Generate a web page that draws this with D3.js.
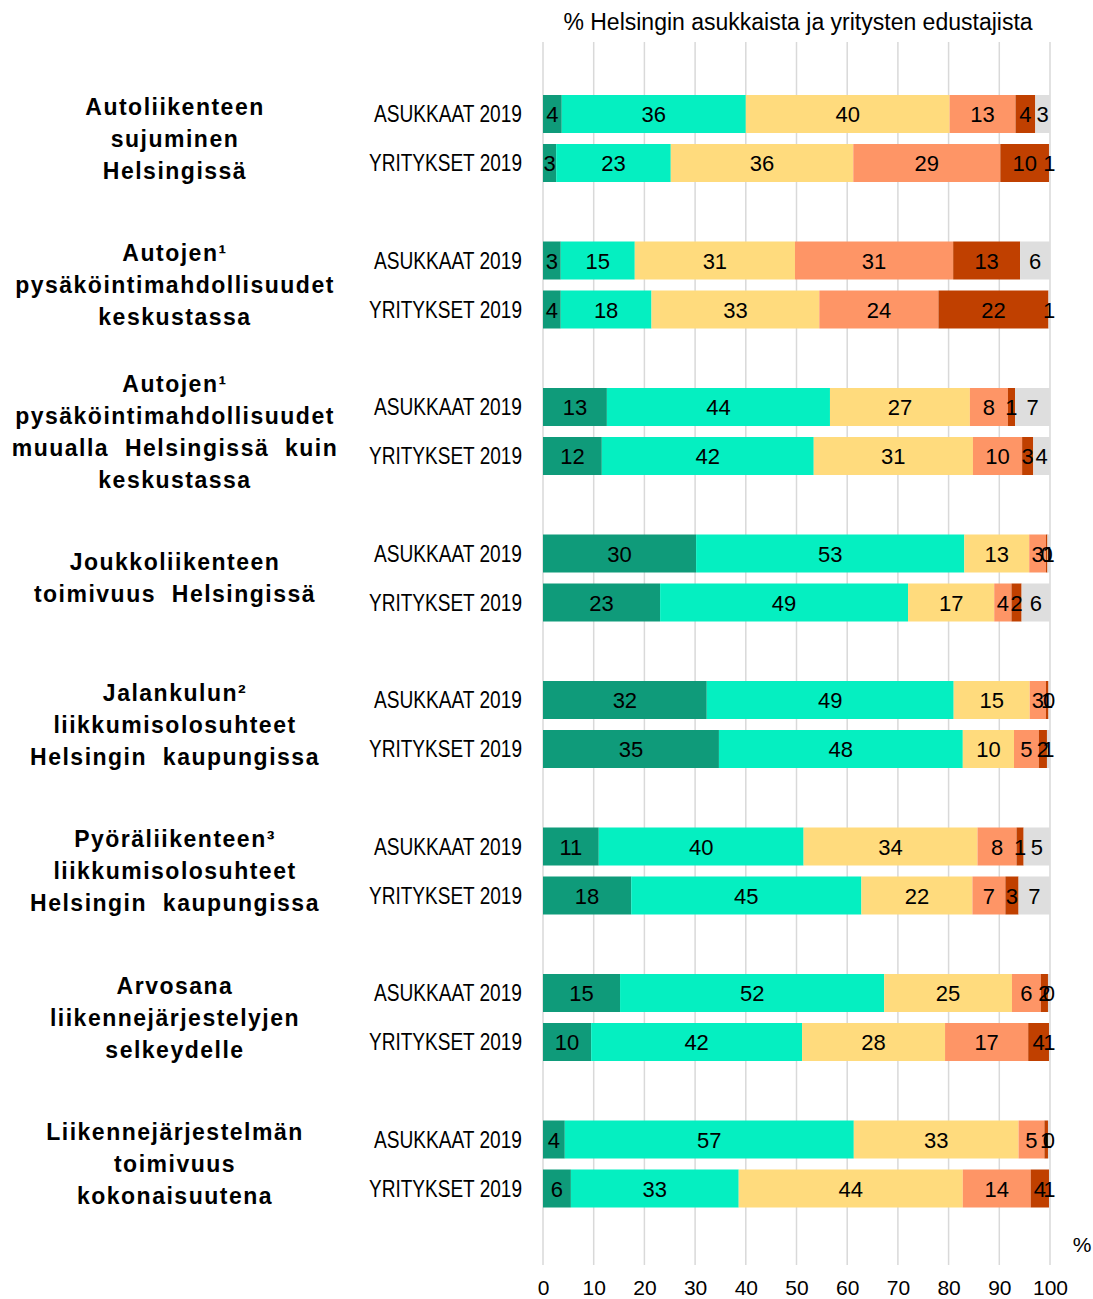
<!DOCTYPE html>
<html>
<head>
<meta charset="utf-8">
<script src="https://cdn.jsdelivr.net/npm/d3@7"></script>
<style>
  body { margin: 0; background: #fff; }
  text { font-family: "Liberation Sans", Arial, sans-serif; fill: #000; }
  .cat { font-weight: bold; font-size: 23px; letter-spacing: 1.5px; }
  .row { font-family: "Liberation Sans Narrow", "Arial Narrow", "Liberation Sans", sans-serif; font-size: 23px; }
  .val { font-size: 22px; }
  .tick text { font-size: 21px; }
</style>
</head>
<body>
<div id="chart"></div>
<script>
// categories, one list of lines each
var categories = [
  ["Autoliikenteen", "sujuminen", "Helsingissä"],
  ["Autojen¹", "pysäköintimahdollisuudet", "keskustassa"],
  ["Autojen¹", "pysäköintimahdollisuudet", "muualla  Helsingissä  kuin", "keskustassa"],
  ["Joukkoliikenteen", "toimivuus  Helsingissä"],
  ["Jalankulun²", "liikkumisolosuhteet", "Helsingin  kaupungissa"],
  ["Pyöräliikenteen³", "liikkumisolosuhteet", "Helsingin  kaupungissa"],
  ["Arvosana", "liikennejärjestelyjen", "selkeydelle"],
  ["Liikennejärjestelmän", "toimivuus", "kokonaisuutena"]
];
var series = ["ASUKKAAT 2019", "YRITYKSET 2019"];
var seriesWidth = [148, 153]; // narrow label widths
var answers = ["Erittäin hyvä", "Melko hyvä", "Ei hyvä eikä huono", "Melko huono", "Erittäin huono", "En osaa sanoa"];
var colors = ["#0f9b7a", "#05efc1", "#ffdb7d", "#fe9566", "#c04000", "#dedede"];

// shares (%)
var asukkaatValues = [
  [3.7, 36.3, 40.2, 13.0, 3.9, 2.9],
  [3.5, 14.6, 31.6, 31.2, 13.2, 5.9],
  [12.6, 44.0, 27.6, 7.5, 1.4, 6.9],
  [30.2, 52.9, 12.8, 3.3, 0.3, 0.5],
  [32.3, 48.7, 15.0, 3.2, 0.5, 0.3],
  [11.0, 40.4, 34.3, 7.7, 1.4, 5.2],
  [15.2, 52.1, 25.2, 5.7, 1.4, 0.4],
  [4.3, 57.0, 32.5, 5.1, 0.7, 0.4]
];
var yrityksetValues = [
  [2.6, 22.6, 36.0, 29.0, 9.6, 0.2],
  [3.5, 17.9, 33.1, 23.5, 21.7, 0.3],
  [11.6, 41.8, 31.4, 9.7, 2.2, 3.3],
  [23.1, 48.9, 17.0, 3.4, 2.0, 5.6],
  [34.7, 48.1, 10.1, 4.9, 1.6, 0.6],
  [17.4, 45.4, 21.9, 6.5, 2.6, 6.2],
  [9.5, 41.6, 28.2, 16.4, 4.1, 0.2],
  [5.5, 33.1, 44.2, 13.4, 3.6, 0.2]
];
// printed labels
var asukkaatLabels = [
  [4, 36, 40, 13, 4, 3],
  [3, 15, 31, 31, 13, 6],
  [13, 44, 27, 8, 1, 7],
  [30, 53, 13, 3, 0, 1],
  [32, 49, 15, 3, 1, 0],
  [11, 40, 34, 8, 1, 5],
  [15, 52, 25, 6, 2, 0],
  [4, 57, 33, 5, 1, 0]
];
var yrityksetLabels = [
  [3, 23, 36, 29, 10, 1],
  [4, 18, 33, 24, 22, 1],
  [12, 42, 31, 10, 3, 4],
  [23, 49, 17, 4, 2, 6],
  [35, 48, 10, 5, 2, 1],
  [18, 45, 22, 7, 3, 7],
  [10, 42, 28, 17, 4, 1],
  [6, 33, 44, 14, 4, 1]
];
var xTicks = [0, 10, 20, 30, 40, 50, 60, 70, 80, 90, 100];

var W = 1093, H = 1299;
var svg = d3.select("#chart").append("svg")
  .attr("width", W)
  .attr("height", H);

var x = d3.scaleLinear().domain([0, 100]).range([543, 1050]);
var yGroup = d3.scaleBand().domain(d3.range(categories.length)).range([65.25, 1237.25]);
var yRow = d3.scalePoint().domain(series).range([-24.5, 24.5]);
var barH = 38;

// build rows
var rows = [];
categories.forEach(function(c, i) {
  [asukkaatValues, yrityksetValues].forEach(function(vals, j) {
    var r = { group: i, series: series[j], labels: (j == 0 ? asukkaatLabels : yrityksetLabels)[i] };
    answers.forEach(function(a, k) { r[a] = vals[i][k]; });
    rows.push(r);
  });
});
var stacked = d3.stack().keys(answers)(rows);

function rowY(d) { return yGroup(d.group) + yGroup.bandwidth() / 2 + yRow(d.series); }

// gridlines
svg.append("g").selectAll("line")
  .data(xTicks)
  .enter().append("line")
  .attr("x1", function(d) { return x(d); })
  .attr("x2", function(d) { return x(d); })
  .attr("y1", 42)
  .attr("y2", 1265)
  .attr("stroke", "#d9d9d9")
  .attr("stroke-width", 1.5);

// bars
var layer = svg.selectAll(".layer")
  .data(stacked)
  .enter().append("g")
  .attr("class", "layer")
  .attr("fill", function(d, i) { return colors[i]; });

layer.selectAll("rect")
  .data(function(d) { return d; })
  .enter().append("rect")
  .attr("x", function(d) { return x(d[0]); })
  .attr("width", function(d) { return x(d[1]) - x(d[0]); })
  .attr("y", function(d) { return rowY(d.data) - barH / 2; })
  .attr("height", barH);

// value labels
stacked.forEach(function(s, k) {
  svg.append("g").selectAll("text")
    .data(s)
    .enter().append("text")
    .attr("class", "val")
    .attr("text-anchor", "middle")
    .attr("x", function(d) { return x((d[0] + d[1]) / 2); })
    .attr("y", function(d) { return rowY(d.data) + 8; })
    .text(function(d) { return d.data.labels[k]; });
});

// row labels
svg.append("g").selectAll("text")
  .data(rows)
  .enter().append("text")
  .attr("class", "row")
  .attr("text-anchor", "end")
  .attr("x", 522)
  .attr("y", function(d) { return rowY(d) + 8; })
  .attr("textLength", function(d) { return seriesWidth[series.indexOf(d.series)]; })
  .attr("lengthAdjust", "spacingAndGlyphs")
  .text(function(d) { return d.series; });

// category labels
var lineH = 32;
categories.forEach(function(lines, i) {
  var cy = yGroup(i) + yGroup.bandwidth() / 2;
  var t = svg.append("text")
    .attr("class", "cat")
    .attr("text-anchor", "middle")
    .attr("x", 175)
    .attr("y", cy - (lines.length - 1) * lineH / 2 + 8)
    .style("white-space", "pre");
  lines.forEach(function(l, n) {
    t.append("tspan")
      .attr("x", 175)
      .attr("dy", n == 0 ? 0 : lineH)
      .text(l);
  });
});

// x axis
var xAxis = svg.append("g")
  .attr("transform", "translate(0,1280)")
  .call(d3.axisBottom(x).tickValues(xTicks).tickSize(0).tickPadding(0));
xAxis.select(".domain").remove();
xAxis.selectAll("text").attr("dy", "0.7em").style("fill", "#000");

svg.append("text")
  .attr("x", 1082)
  .attr("y", 1252)
  .attr("text-anchor", "middle")
  .style("font-size", "21px")
  .text("%");

svg.append("text")
  .attr("x", 798)
  .attr("y", 30)
  .attr("text-anchor", "middle")
  .style("font-size", "23px")
  .text("% Helsingin asukkaista ja yritysten edustajista");
</script>
</body>
</html>
